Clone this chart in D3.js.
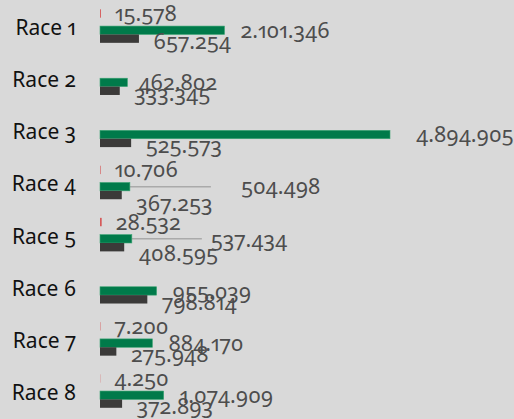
<!DOCTYPE html>
<html>
<head>
<meta charset="utf-8">
<script src="https://cdn.jsdelivr.net/npm/d3@7"></script>
<style>
  html, body { margin: 0; padding: 0; background: #d9d9d9; }
  svg { display: block; }
  text { font-family: "Noto Sans", "Open Sans", sans-serif; font-variant-numeric: oldstyle-nums proportional-nums; font-feature-settings: "onum" 1, "pnum" 1; }
</style>
</head>
<body>
<svg id="chart" width="514" height="419"></svg>
<script>
// ---- data ----
const races = ["Race 1", "Race 2", "Race 3", "Race 4", "Race 5", "Race 6", "Race 7", "Race 8"];
const smallValues = [15578, null, null, 10706, 28532, null, 7200, 4250];
const greenValues = [2101346, 462802, 4894905, 504498, 537434, 955039, 884170, 1074909];
const darkValues  = [657254, 333345, 525573, 367253, 408595, 798814, 275948, 372893];
const seriesKeys = ["small", "blank", "green", "dark"];

// ---- layout config ----
const W = 514, H = 419;
const greenLabelShift = { "Race 2": -5, "Race 3": 10, "Race 4": 95, "Race 5": 63 };
const leaderGap = { "Race 4": 30, "Race 5": 9 };
const darkLabelDy = { "Race 4": 6, "Race 5": 3 };

const loc = d3.formatLocale({ decimal: ",", thousands: ".", grouping: [3], currency: ["", ""] });
const fmt = loc.format(",d");

const svg = d3.select("#chart");
svg.append("rect").attr("width", W).attr("height", H).attr("fill", "#d9d9d9");

const x = d3.scaleLinear().domain([0, 4894905]).range([100, 390]);
const y0 = d3.scaleBand().domain(races).range([0, 417.1]).paddingInner(0.357).paddingOuter(0.1785);
const y1 = d3.scaleBand().domain(seriesKeys).range([0, y0.bandwidth()]);

const rows = races.map((r, i) => ({ race: r, small: smallValues[i], green: greenValues[i], dark: darkValues[i] }));

const g = svg.append("g");
const row = g.selectAll("g.row").data(rows).join("g")
  .attr("class", "row")
  .attr("transform", d => `translate(0,${y0(d.race)})`);

// race labels
row.append("text")
  .attr("x", 76)
  .attr("y", y1("green") + 9)
  .attr("text-anchor", "end")
  .attr("font-size", 21)
  .attr("fill", "#111")
  .text(d => d.race);

// small series
row.filter(d => d.small != null).append("rect")
  .attr("x", x(0))
  .attr("y", y1("small"))
  .attr("width", d => x(d.small) - x(0))
  .attr("height", y1.bandwidth())
  .attr("fill", "#d65a5a");

const greenLabelX = d => x(d.green) + 16 + (greenLabelShift[d.race] || 0);

// leader lines
row.filter(d => leaderGap[d.race] != null).append("line")
  .attr("x1", d => x(d.green))
  .attr("x2", d => greenLabelX(d) - leaderGap[d.race])
  .attr("y1", y1("green") + y1.bandwidth() / 2)
  .attr("y2", y1("green") + y1.bandwidth() / 2)
  .attr("stroke", "#aaaaaa")
  .attr("stroke-width", 1.5);

// green series
row.append("rect")
  .attr("x", x(0))
  .attr("y", y1("green"))
  .attr("width", d => x(d.green) - x(0))
  .attr("height", y1.bandwidth())
  .attr("fill", "#007a4a")
  .attr("stroke", "#3da574")
  .attr("stroke-width", 0.6);

// dark series
row.append("rect")
  .attr("x", x(0))
  .attr("y", y1("dark"))
  .attr("width", d => x(d.dark) - x(0))
  .attr("height", y1.bandwidth())
  .attr("fill", "#3b3a39");

const labelColor = "#4d4d4d";
const fs = 21.5;

row.filter(d => d.small != null).append("text")
  .attr("x", d => x(d.small) + 14)
  .attr("y", y1("green") - 5)
  .attr("font-size", fs)
  .attr("fill", labelColor)
  .text(d => fmt(d.small));

row.append("text")
  .attr("x", greenLabelX)
  .attr("y", y1("green") + 12)
  .attr("font-size", fs)
  .attr("fill", labelColor)
  .text(d => fmt(d.green));

row.append("text")
  .attr("x", d => x(d.dark) + 14.6)
  .attr("y", d => y1("green") + 23 + (darkLabelDy[d.race] || 0))
  .attr("font-size", fs)
  .attr("fill", labelColor)
  .text(d => fmt(d.dark));
</script>
</body>
</html>
